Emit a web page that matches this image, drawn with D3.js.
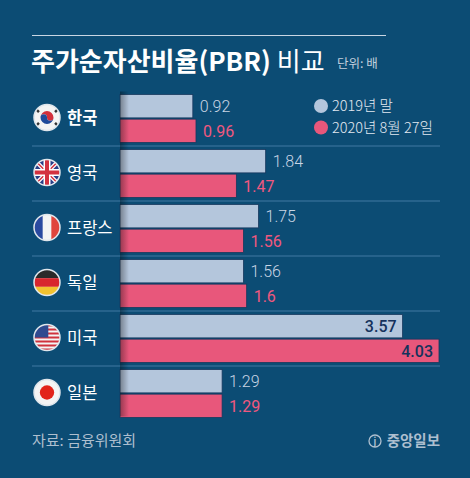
<!DOCTYPE html>
<html>
<head>
<meta charset="utf-8">
<script src="https://cdn.jsdelivr.net/npm/d3@7"></script>
<style>
  html, body { margin: 0; padding: 0; background: #0c4c74; }
  svg { display: block; font-family: "Noto Sans CJK KR", "Noto Sans", sans-serif; }
</style>
</head>
<body>
<div id="chart"></div>
<script>
// 데이터
const countries = ["한국", "영국", "프랑스", "독일", "미국", "일본"];
const flags = ["kr", "gb", "fr", "de", "us", "jp"];
const seriesNames = ["2019년 말", "2020년 8월 27일"];
const pbr2019 = [0.92, 1.84, 1.75, 1.56, 3.57, 1.29];
const pbr2020 = [0.96, 1.47, 1.56, 1.6, 4.03, 1.29];

const width = 470, height = 478;
const bg = "#0c4c74";
const lightColor = "#b4c6dc";
const pinkColor = "#e8577b";

const svg = d3.select("#chart").append("svg")
  .attr("width", width)
  .attr("height", height);

svg.append("rect").attr("width", width).attr("height", height).attr("fill", bg);

const defs = svg.append("defs");
const shadow = defs.append("linearGradient").attr("id", "shadow");
shadow.append("stop").attr("offset", "0%").attr("stop-color", "#000").attr("stop-opacity", 0.35);
shadow.append("stop").attr("offset", "100%").attr("stop-color", "#000").attr("stop-opacity", 0);

// 스케일
const x = d3.scaleLinear().domain([0, 4.03]).range([120, 439]);
const y = d3.scaleBand().domain(countries).range([91.5, 91.5 + 55 * countries.length]);
const ySub = d3.scaleBand().domain(seriesNames).range([3, 51]).paddingInner(0.05);

// 타이틀
svg.append("line")
  .attr("x1", 32).attr("x2", 386).attr("y1", 35.5).attr("y2", 35.5)
  .attr("stroke", "#c9d6e3").attr("stroke-width", 1);

const title = svg.append("text")
  .attr("x", 31).attr("y", 71)
  .attr("fill", "#ffffff")
  .attr("font-size", "26px");
title.append("tspan").attr("font-weight", 700).text("주가순자산비율(PBR)");
title.append("tspan").attr("font-weight", 400).text(" 비교");

svg.append("text")
  .attr("x", 337).attr("y", 68)
  .attr("fill", "#c2cfdd")
  .attr("font-size", "12.5px")
  .text("단위: 배");

// 구분선
svg.selectAll("line.sep")
  .data(countries.slice(1))
  .enter().append("line")
  .attr("class", "sep")
  .attr("x1", 32).attr("x2", 440)
  .attr("y1", d => y(d) - 0.5).attr("y2", d => y(d) - 0.5)
  .attr("stroke", "#2f6a93").attr("stroke-width", 1.5);

// 막대
const rows = svg.selectAll("g.row")
  .data(countries.map((c, i) => ({ country: c, flag: flags[i], values: [pbr2019[i], pbr2020[i]] })))
  .enter().append("g")
  .attr("class", "row")
  .attr("transform", d => `translate(0, ${y(d.country)})`);

rows.selectAll("rect.bar")
  .data(d => d.values.map((v, j) => ({ series: seriesNames[j], value: v, j })))
  .enter().append("rect")
  .attr("class", "bar")
  .attr("x", x(0))
  .attr("y", d => ySub(d.series))
  .attr("width", d => x(d.value) - x(0))
  .attr("height", ySub.bandwidth())
  .attr("fill", d => d.j === 0 ? lightColor : pinkColor)
  .attr("stroke", "#17385e")
  .attr("stroke-width", 0.8);

// 값 라벨 (막대가 길면 안쪽에 표시)
rows.selectAll("text.val")
  .data(d => d.values.map((v, j) => ({ series: seriesNames[j], value: v, j })))
  .enter().append("text")
  .attr("class", "val")
  .each(function (d) {
    const inside = x(d.value) > 380;
    d3.select(this)
      .attr("x", inside ? x(d.value) - 6 : x(d.value) + 7)
      .attr("text-anchor", inside ? "end" : "start")
      .attr("fill", inside ? "#15325c" : (d.j === 0 ? "#c9d5e4" : "#f0587f"))
      .attr("font-weight", inside ? 500 : (d.j === 0 ? 300 : 400));
  })
  .attr("y", d => ySub(d.series) + ySub.bandwidth() / 2 + 6)
  .attr("font-size", "16px")
  .attr("font-family", "Roboto, 'Noto Sans', sans-serif")
  .text(d => d.value);

// 왼쪽 그림자
svg.append("rect")
  .attr("x", x(0)).attr("y", y.range()[0])
  .attr("width", 9).attr("height", y.range()[1] - y.range()[0] - 5)
  .attr("fill", "url(#shadow)");

// 국기
function drawFlag(g, code, cx, cy, r) {
  const id = "clip-" + code;
  defs.append("clipPath").attr("id", id)
    .append("circle").attr("cx", cx).attr("cy", cy).attr("r", r);
  const f = g.append("g").attr("clip-path", `url(#${id})`);
  const x0 = cx - r, y0 = cy - r, s = 2 * r;
  f.append("rect").attr("x", x0).attr("y", y0).attr("width", s).attr("height", s).attr("fill", "#f4f4f4");
  if (code === "kr") {
    const rr = r * 0.5;
    f.append("path")
      .attr("d", `M${cx - rr},${cy} A${rr},${rr} 0 0 1 ${cx + rr},${cy} A${rr / 2},${rr / 2} 0 0 1 ${cx},${cy} A${rr / 2},${rr / 2} 0 0 0 ${cx - rr},${cy}Z`)
      .attr("fill", "#d32f3c");
    f.append("path")
      .attr("d", `M${cx - rr},${cy} A${rr},${rr} 0 0 0 ${cx + rr},${cy} A${rr / 2},${rr / 2} 0 0 1 ${cx},${cy} A${rr / 2},${rr / 2} 0 0 0 ${cx - rr},${cy}Z`)
      .attr("fill", "#1f4a9a");
    [[-1, -1], [1, -1], [-1, 1], [1, 1]].forEach(([dx, dy]) => {
      f.append("line")
        .attr("x1", cx + dx * r * 0.62).attr("y1", cy + dy * r * 0.42)
        .attr("x2", cx + dx * r * 0.82).attr("y2", cy + dy * r * 0.62)
        .attr("stroke", "#333").attr("stroke-width", 2.5);
    });
  } else if (code === "gb") {
    f.append("rect").attr("x", x0).attr("y", y0).attr("width", s).attr("height", s).attr("fill", "#2a3f87");
    f.append("path").attr("d", `M${x0},${y0}L${x0 + s},${y0 + s}M${x0 + s},${y0}L${x0},${y0 + s}`)
      .attr("stroke", "#fff").attr("stroke-width", 4);
    f.append("path").attr("d", `M${x0},${y0}L${x0 + s},${y0 + s}M${x0 + s},${y0}L${x0},${y0 + s}`)
      .attr("stroke", "#d3323f").attr("stroke-width", 1.5);
    f.append("path").attr("d", `M${cx},${y0}V${y0 + s}M${x0},${cy}H${x0 + s}`)
      .attr("stroke", "#fff").attr("stroke-width", 7);
    f.append("path").attr("d", `M${cx},${y0}V${y0 + s}M${x0},${cy}H${x0 + s}`)
      .attr("stroke", "#d3323f").attr("stroke-width", 4);
  } else if (code === "fr") {
    f.append("rect").attr("x", x0).attr("y", y0).attr("width", s / 3).attr("height", s).attr("fill", "#2a4aa0");
    f.append("rect").attr("x", x0 + 2 * s / 3).attr("y", y0).attr("width", s / 3).attr("height", s).attr("fill", "#e0453d");
  } else if (code === "de") {
    f.append("rect").attr("x", x0).attr("y", y0).attr("width", s).attr("height", s / 3).attr("fill", "#2a2a2a");
    f.append("rect").attr("x", x0).attr("y", y0 + s / 3).attr("width", s).attr("height", s / 3).attr("fill", "#d8262e");
    f.append("rect").attr("x", x0).attr("y", y0 + 2 * s / 3).attr("width", s).attr("height", s / 3).attr("fill", "#f2c230");
  } else if (code === "us") {
    d3.range(7).forEach(k => {
      f.append("rect").attr("x", x0).attr("y", y0 + k * s / 6.5).attr("width", s).attr("height", s / 13)
        .attr("fill", "#d0323d");
    });
    f.append("rect").attr("x", x0).attr("y", y0).attr("width", s * 0.55).attr("height", s * 0.5).attr("fill", "#2f4a8f");
  } else if (code === "jp") {
    f.append("circle").attr("cx", cx).attr("cy", cy).attr("r", r * 0.55).attr("fill", "#e2231a");
  }
  g.append("circle").attr("cx", cx).attr("cy", cy).attr("r", r)
    .attr("fill", "none").attr("stroke", "#dfe6ec").attr("stroke-width", 1.5);
}

rows.each(function (d) {
  drawFlag(d3.select(this), d.flag, 47, 26, 13);
});

// 국가명
rows.append("text")
  .attr("x", 67)
  .attr("y", 32)
  .attr("fill", "#ffffff")
  .attr("font-size", "16.5px")
  .attr("font-weight", d => d.country === "한국" ? 700 : 400)
  .text(d => d.country);

// 범례
const legend = svg.selectAll("g.legend")
  .data(seriesNames)
  .enter().append("g")
  .attr("class", "legend")
  .attr("transform", (d, i) => `translate(321, ${106 + i * 21.5})`);

legend.append("circle")
  .attr("r", 7)
  .attr("fill", (d, i) => i === 0 ? lightColor : pinkColor);

legend.append("text")
  .attr("x", 11).attr("y", 5)
  .attr("fill", "#e2e9f1")
  .attr("font-size", "14.5px")
  .attr("font-weight", 300)
  .text(d => d);

// 출처
svg.append("text")
  .attr("x", 32).attr("y", 446)
  .attr("fill", "#aebfcf")
  .attr("font-size", "15px")
  .text("자료: 금융위원회");

svg.append("circle")
  .attr("cx", 375).attr("cy", 441).attr("r", 6)
  .attr("fill", "none").attr("stroke", "#aebfcf").attr("stroke-width", 1.3);
svg.append("text")
  .attr("x", 375).attr("y", 445)
  .attr("text-anchor", "middle")
  .attr("fill", "#aebfcf").attr("font-size", "9px").attr("font-weight", 700)
  .text("j");
svg.append("text")
  .attr("x", 440).attr("y", 446)
  .attr("text-anchor", "end")
  .attr("fill", "#aebfcf")
  .attr("font-size", "14.5px")
  .attr("font-weight", 700)
  .text("중앙일보");
</script>
</body>
</html>
